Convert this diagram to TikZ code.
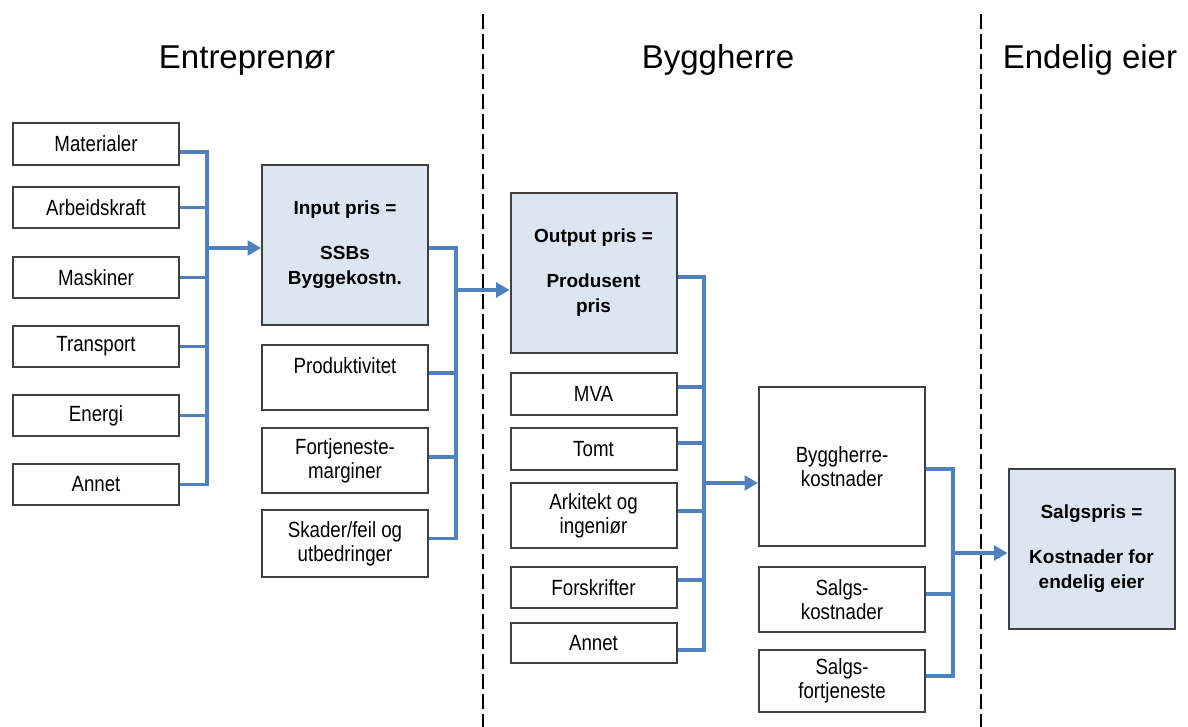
\documentclass[tikz,border=0pt]{standalone}
\usepackage{fontspec}
\setmainfont{Liberation Sans}
\newfontfamily\cellfont{Liberation Sans}[FakeStretch=0.85]
\usepackage{tikz}
\usetikzlibrary{arrows.meta}

\definecolor{linkblue}{RGB}{79,129,189}
\definecolor{keyfill}{RGB}{220,230,242}
\definecolor{edgegray}{RGB}{64,64,64}

\tikzset{
  cell/.style={draw=edgegray, line width=1.5pt, fill=white, inner sep=0pt,
    minimum width=124.5pt, minimum height=31pt, align=center,
    font=\cellfont\fontsize{16.5}{18}\selectfont},
  keycell/.style={cell, fill=keyfill, minimum height=120pt,
    font=\bfseries\fontsize{14.25}{18.75}\selectfont},
  link/.style={draw=linkblue, line width=2.4pt},
  flow/.style={link, -{Triangle[length=10pt,width=11pt]}},
  divider/.style={line width=1.5pt, dash pattern=on 11pt off 4pt},
  head/.style={anchor=base, font=\fontsize{24.75}{30}\selectfont}
}

\begin{document}
\begin{tikzpicture}[x=0.75pt,y=0.75pt,yscale=-1,xscale=1]
%set diagram to 1188 x 727
\useasboundingbox (0,0) rectangle (1188,727);
\draw [divider] (483,14) -- (483,727);
\draw [divider] (981,14) -- (981,727);
\draw (247,69) node [head] (hent) {Entreprenør};
\draw (718,69) node [head] (hbyg) {Byggherre};
\draw (1090,69) node [head] (heier) {Endelig eier};
% entreprenor
\draw (96,144) node [cell] (mat) {Materialer};
\draw (96,207.5) node [cell] (arb) {Arbeidskraft};
\draw (96,277.5) node [cell] (mas) {Maskiner};
\draw (96,346.5) node [cell] (tra) {Transport};
\draw (96,415.5) node [cell] (ene) {Energi};
\draw (96,484.5) node [cell] (ann) {Annet};
\draw (345,245) node [keycell] (inp) {Input pris =\\[15pt]SSBs\\Byggekostn.};
\draw (345,377.5) node [cell, minimum height=48.75pt] (prod) {Produktivitet\\\mbox{}};
\draw (345,460.5) node [cell, minimum height=48.75pt] (fort) {Fortjeneste-\\marginer};
\draw (345,543.5) node [cell, minimum height=50pt] (skad) {Skader/feil og\\utbedringer};
% byggherre
\draw (593.5,273) node [keycell] (outp) {Output pris =\\[15pt]Produsent\\pris};
\draw (593.5,394) node [cell] (mva) {MVA};
\draw (593.5,449) node [cell] (tomt) {Tomt};
\draw (593.5,515.5) node [cell, minimum height=48.75pt] (ark) {Arkitekt og\\ingeniør};
\draw (593.5,587.5) node [cell] (fors) {Forskrifter};
\draw (593.5,643) node [cell, minimum height=30pt] (ann2) {Annet};
\draw (842,466.5) node [cell, minimum height=119.25pt] (bkost) {Byggherre-\\kostnader};
\draw (842,599.5) node [cell, minimum height=48.75pt] (skost) {Salgs-\\kostnader};
\draw (842,681) node [cell, minimum height=46.5pt] (sfort) {Salgs-\\fortjeneste};
% endelig eier
\draw (1091.5,549) node [keycell] (spris) {Salgspris =\\[15pt]Kostnader for\\endelig eier};
% samlelinjer
\coordinate (j1) at (207,248);
\coordinate (j2) at (456,290);
\coordinate (j3) at (704,483);
\coordinate (j4) at (953,553);
\draw [link] ([yshift=6pt]mat.east) -| (ann.east -| j1) -- (ann.east);
\draw [link] (arb.east) -- (arb.east -| j1);
\draw [link] (mas.east) -- (mas.east -| j1);
\draw [link] (tra.east) -- (tra.east -| j1);
\draw [link] (ene.east) -- (ene.east -| j1);
\draw [flow] (j1) -- (j1 -| inp.west);
\draw [link] ([yshift=2.25pt]inp.east) -| ([yshift=-4pt]skad.east -| j2) -- ([yshift=-4pt]skad.east);
\draw [link] ([yshift=-3.4pt]prod.east) -- ([yshift=-3.4pt]prod.east -| j2);
\draw [link] ([yshift=-2.6pt]fort.east) -- ([yshift=-2.6pt]fort.east -| j2);
\draw [flow] (j2) -- (j2 -| outp.west);
\draw [link] ([yshift=3pt]outp.east) -| ([yshift=5.25pt]ann2.east -| j3) -- ([yshift=5.25pt]ann2.east);
\draw [link] ([yshift=-5.25pt]mva.east) -- ([yshift=-5.25pt]mva.east -| j3);
\draw [link] ([yshift=-4.5pt]tomt.east) -- ([yshift=-4.5pt]tomt.east -| j3);
\draw [link] ([yshift=-3.4pt]ark.east) -- ([yshift=-3.4pt]ark.east -| j3);
\draw [link] ([yshift=-5.6pt]fors.east) -- ([yshift=-5.6pt]fors.east -| j3);
\draw [flow] (j3) -- (j3 -| bkost.west);
\draw [link] ([yshift=1.9pt]bkost.east) -| ([yshift=-3.75pt]sfort.east -| j4) -- ([yshift=-3.75pt]sfort.east);
\draw [link] ([yshift=-4.1pt]skost.east) -- ([yshift=-4.1pt]skost.east -| j4);
\draw [flow] (j4) -- (j4 -| spris.west);
\end{tikzpicture}
\end{document}
